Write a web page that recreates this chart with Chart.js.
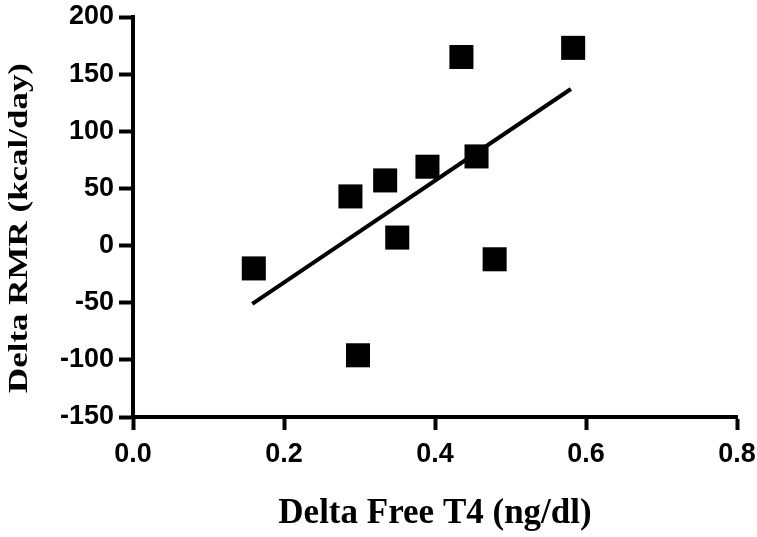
<!DOCTYPE html>
<html>
<head>
<meta charset="utf-8">
<script src="https://cdn.jsdelivr.net/npm/chart.js@4"></script>
<style>
  html, body { margin: 0; padding: 0; background: #fff; }
  #wrap { width: 757px; height: 537px; position: relative; }
</style>
</head>
<body>
<div id="wrap"><canvas id="c"></canvas></div>
<script>
// Data
const xValues = [0.160, 0.288, 0.334, 0.350, 0.390, 0.298, 0.435, 0.455, 0.479, 0.583];
const yValues = [-20, 43, 57, 7, 69, -96, 165, 78, -12, 173];
const fitX = [0.158, 0.580];
const fitY = [-51, 137];
const xTicks = [0, 0.2, 0.4, 0.6, 0.8];
const yTicks = [-150, -100, -50, 0, 50, 100, 150, 200];
const xTitle = 'Delta Free T4 (ng/dl)';
const yTitle = 'Delta RMR (kcal/day)';

const points = xValues.map((x, i) => ({ x: x, y: yValues[i] }));
const fitLine = fitX.map((x, i) => ({ x: x, y: fitY[i] }));

const tickFont = { family: "'Liberation Sans', Arial, sans-serif", size: 27, weight: 'bold' };

const yTitlePlugin = {
  id: 'yTitlePlugin',
  afterDraw(chart) {
    const ctx = chart.ctx;
    ctx.save();
    ctx.font = "bold 28px 'Liberation Serif', 'Times New Roman', serif";
    ctx.fillStyle = '#000';
    ctx.textAlign = 'center';
    ctx.textBaseline = 'alphabetic';
    const w = ctx.measureText(yTitle).width;
    const sx = 330 / w;
    ctx.translate(27, 228);
    ctx.rotate(-Math.PI / 2);
    ctx.scale(sx, 1);
    ctx.fillText(yTitle, 0, 0);
    ctx.restore();
  }
};

new Chart(document.getElementById('c'), {
  type: 'scatter',
  data: {
    datasets: [
      {
        label: 'data',
        data: points,
        pointStyle: 'rect',
        pointRadius: 17,
        pointHoverRadius: 17,
        backgroundColor: '#000',
        borderColor: '#000',
        borderWidth: 0
      },
      {
        label: 'fit',
        data: fitLine,
        showLine: true,
        borderColor: '#000',
        borderWidth: 4,
        pointRadius: 0,
        borderCapStyle: 'butt',
        fill: false
      }
    ]
  },
  options: {
    responsive: true,
    maintainAspectRatio: false,
    animation: false,
    layout: { padding: { left: 0, right: 20, top: 17, bottom: 0 } },
    plugins: { legend: { display: false }, tooltip: { enabled: false } },
    scales: {
      x: {
        type: 'linear',
        min: 0, max: 0.8,
        afterBuildTicks: (s) => { s.ticks = xTicks.map(v => ({ value: v })); },
        afterFit: (s) => { s.height = 120; s.paddingLeft = 0; s.paddingRight = 0; },
        grid: { drawOnChartArea: false, drawTicks: true, tickLength: 13, tickWidth: 4, tickColor: '#000' },
        border: { display: true, width: 4, color: '#000' },
        ticks: { color: '#000', font: tickFont, padding: 8, maxRotation: 0, callback: (v) => Number(v).toFixed(1) },
        title: {
          display: true, text: xTitle, color: '#000',
          font: { family: "'Liberation Serif', 'Times New Roman', serif", size: 35, weight: 'bold' },
          padding: { top: 0, bottom: 2 }
        }
      },
      y: {
        type: 'linear',
        min: -150, max: 200,
        afterBuildTicks: (s) => { s.ticks = yTicks.map(v => ({ value: v })); },
        afterFit: (s) => { s.width = 133; s.paddingTop = 0; s.paddingBottom = 0; },
        grid: { drawOnChartArea: false, drawTicks: true, tickLength: 14, tickWidth: 4, tickColor: '#000' },
        border: { display: true, width: 4, color: '#000' },
        ticks: { color: '#000', font: tickFont, padding: 5, callback: (v) => String(v) },
        title: { display: false }
      }
    }
  },
  plugins: [yTitlePlugin]
});
</script>
</body>
</html>
